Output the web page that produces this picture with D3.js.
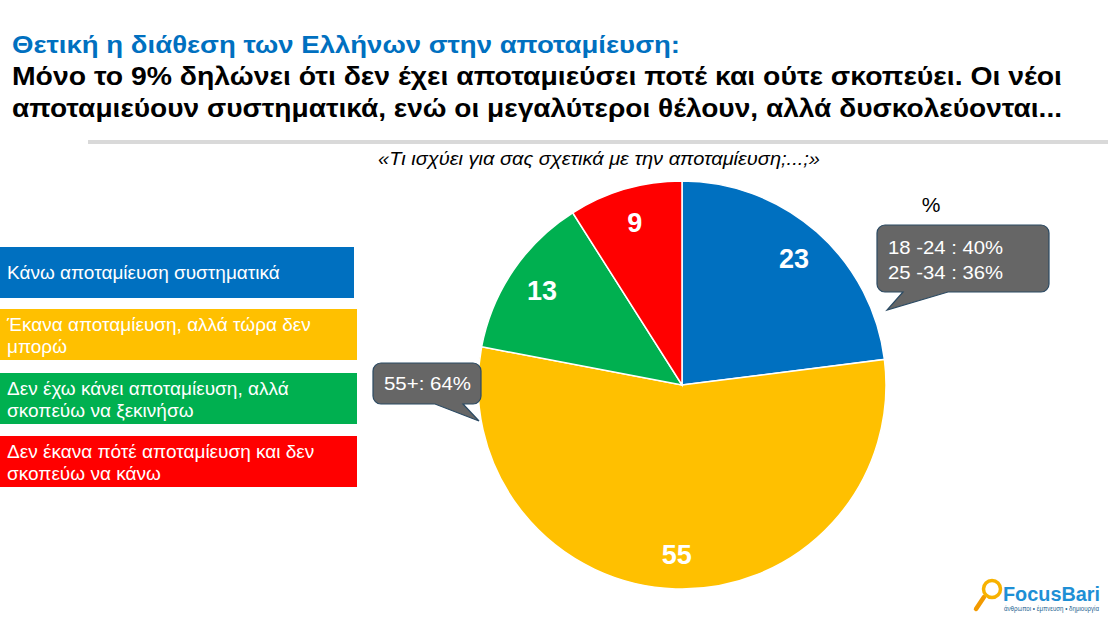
<!DOCTYPE html>
<html>
<head>
<meta charset="utf-8">
<script src="https://cdn.jsdelivr.net/npm/d3@7"></script>
<style>
  body { margin: 0; background: #fff; }
  svg { display: block; }
</style>
</head>
<body>
<div id="chart"></div>
<script>
'use strict';

var categories = [
  ['Κάνω αποταμίευση συστηματικά'],
  ['Έκανα αποταμίευση, αλλά τώρα δεν', 'μπορώ'],
  ['Δεν έχω κάνει αποταμίευση, αλλά', 'σκοπεύω να ξεκινήσω'],
  ['Δεν έκανα πότέ αποταμίευση και δεν', 'σκοπεύω να κάνω']
];
var values = [23, 55, 13, 9];
var colors = ['#0070C0', '#FFC000', '#00B050', '#FF0000'];
var youngNote = ['18 -24 : 40%', '25 -34 : 36%'];
var oldNote = ['55+: 64%'];

var width = 1108;
var height = 621;
var cx = 682;
var cy = 385;
var radius = 204;

var svg = d3.select('#chart').append('svg').attr('width', width).attr('height', height);

// titles
svg.append('text').attr('x', 12).attr('y', 53)
  .attr('font-family', "'Liberation Sans Narrow', 'Liberation Sans', Arial, sans-serif")
  .attr('font-weight', 'bold').attr('font-size', 23).attr('fill', '#0070C0')
  .attr('textLength', 668).attr('lengthAdjust', 'spacingAndGlyphs')
  .text('Θετική η διάθεση των Ελλήνων στην αποταμίευση:');
svg.append('text').attr('x', 12).attr('y', 85)
  .attr('font-family', "'Liberation Sans Narrow', 'Liberation Sans', Arial, sans-serif")
  .attr('font-weight', 'bold').attr('font-size', 26).attr('fill', '#000')
  .attr('textLength', 1050).attr('lengthAdjust', 'spacingAndGlyphs')
  .text('Μόνο το 9% δηλώνει ότι δεν έχει αποταμιεύσει ποτέ και ούτε σκοπεύει.  Οι νέοι');
svg.append('text').attr('x', 12).attr('y', 117)
  .attr('font-family', "'Liberation Sans Narrow', 'Liberation Sans', Arial, sans-serif")
  .attr('font-weight', 'bold').attr('font-size', 26).attr('fill', '#000')
  .attr('textLength', 1050).attr('lengthAdjust', 'spacingAndGlyphs')
  .text('αποταμιεύουν συστηματικά, ενώ οι μεγαλύτεροι θέλουν, αλλά δυσκολεύονται...');

svg.append('line').attr('x1', 88).attr('x2', width).attr('y1', 142).attr('y2', 142)
  .attr('stroke', '#d9d9d9').attr('stroke-width', 4);

svg.append('text').attr('x', 378).attr('y', 165)
  .attr('font-family', "'Liberation Sans', Arial, sans-serif").attr('font-style', 'italic')
  .attr('font-size', 19).attr('fill', '#000')
  .attr('textLength', 442).attr('lengthAdjust', 'spacingAndGlyphs')
  .text('«Τι ισχύει για σας σχετικά με την αποταμίευση;...;»');

// legend boxes
var boxTop = [247, 309, 373, 436];
var legend = svg.append('g');
categories.forEach(function (lines, i) {
  legend.append('rect').attr('x', 0).attr('y', boxTop[i])
    .attr('width', i === 0 ? 354 : 357).attr('height', 51).attr('fill', colors[i]);
  var t = legend.append('text').attr('font-family', "'Liberation Sans', Arial, sans-serif")
    .attr('font-size', 19).attr('fill', '#fff');
  var y0 = lines.length === 1 ? boxTop[i] + 32 : boxTop[i] + 22;
  lines.forEach(function (l, j) {
    t.append('tspan').attr('x', 7).attr('y', y0 + j * 21.5).text(l);
  });
});

// pie
var pie = d3.pie().sort(null).value(function (d) { return d; });
var arc = d3.arc().innerRadius(0).outerRadius(radius);
var labelArc = d3.arc().innerRadius(radius * 0.83).outerRadius(radius * 0.83);
var g = svg.append('g').attr('transform', 'translate(' + cx + ',' + cy + ')');
var arcs = pie(values);
g.selectAll('path').data(arcs).enter().append('path')
  .attr('d', arc).attr('fill', function (d, i) { return colors[i]; })
  .attr('stroke', '#fff').attr('stroke-width', 1.5);
g.selectAll('text').data(arcs).enter().append('text')
  .attr('transform', function (d) { return 'translate(' + labelArc.centroid(d) + ')'; })
  .attr('text-anchor', 'middle').attr('dy', '0.36em')
  .attr('font-family', "'Liberation Sans', Arial, sans-serif").attr('font-weight', 'bold')
  .attr('font-size', 27).attr('fill', '#fff')
  .text(function (d) { return d.data; });

svg.append('text').attr('x', 931).attr('y', 212).attr('text-anchor', 'middle')
  .attr('font-family', "'Liberation Sans', Arial, sans-serif").attr('font-size', 21)
  .attr('fill', '#000').text('%');

// callouts
function callout(x, y, w, h, tail, lines, fs, lineH, firstY, len) {
  var r = 8;
  var p = d3.path();
  p.moveTo(x + r, y);
  p.lineTo(x + w - r, y);
  p.arcTo(x + w, y, x + w, y + r, r);
  p.lineTo(x + w, y + h - r);
  p.arcTo(x + w, y + h, x + w - r, y + h, r);
  p.lineTo(tail[1], y + h);
  p.lineTo(tail[2], tail[3]);
  p.lineTo(tail[0], y + h);
  p.lineTo(x + r, y + h);
  p.arcTo(x, y + h, x, y + h - r, r);
  p.lineTo(x, y + r);
  p.arcTo(x, y, x + r, y, r);
  p.closePath();
  svg.append('path').attr('d', p.toString()).attr('fill', '#666666')
    .attr('stroke', '#2b4a63').attr('stroke-width', 1.2);
  lines.forEach(function (l, j) {
    svg.append('text').attr('font-family', "'Liberation Sans', Arial, sans-serif")
      .attr('font-size', fs).attr('fill', '#fff')
      .attr('x', x + 11).attr('y', firstY + j * lineH)
      .attr('textLength', len).attr('lengthAdjust', 'spacingAndGlyphs').text(l);
  });
}
callout(877, 225, 172, 67, [903, 948, 887, 310], youngNote, 18.5, 25, 254, 115);
callout(373, 363, 108, 41, [435, 463, 479, 421], oldNote, 19, 0, 390, 87);

// logo
var logo = svg.append('g');
logo.append('line').attr('x1', 984).attr('y1', 597).attr('x2', 976).attr('y2', 609)
  .attr('stroke', '#F29A00').attr('stroke-width', 4.5).attr('stroke-linecap', 'round');
logo.append('circle').attr('cx', 992).attr('cy', 589).attr('r', 8.5)
  .attr('fill', 'none').attr('stroke', '#F7B200').attr('stroke-width', 3.5);
logo.append('text').attr('x', 1003).attr('y', 601)
  .attr('font-family', "'Liberation Sans Narrow', 'Liberation Sans', Arial, sans-serif")
  .attr('font-weight', 'bold').attr('font-size', 21).attr('fill', '#1E8FD5')
  .attr('textLength', 97).attr('lengthAdjust', 'spacingAndGlyphs').text('FocusBari');
logo.append('text').attr('x', 1004).attr('y', 611)
  .attr('font-family', "'Liberation Sans', Arial, sans-serif")
  .attr('font-size', 6.5).attr('fill', '#1E5F8F')
  .attr('textLength', 95).attr('lengthAdjust', 'spacingAndGlyphs')
  .text('άνθρωποι • έμπνευση • δημιουργία');
</script>
</body>
</html>
